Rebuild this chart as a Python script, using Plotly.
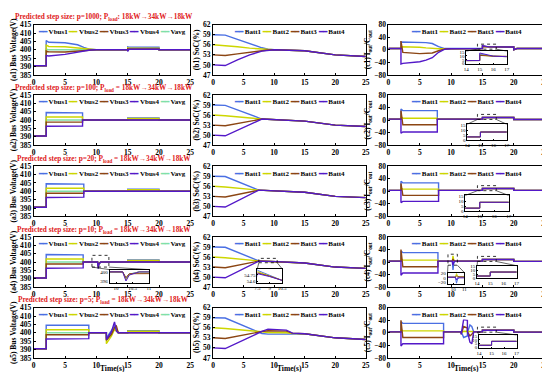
import plotly.graph_objects as go

W, H = 550, 372
FONT = "Liberation Serif"
COLORS = ["#4a6fe3", "#cdd600", "#8b4513", "#5318c8"]
CAVG = "#7fe0a8"

VNAMES = ["Vbus1", "Vbus2", "Vbus3", "Vbus4"]
BNAMES = ["Batt1", "Batt2", "Batt3", "Batt4"]
ROW_LABELS = ["1", "2", "3", "4", "5"]
P_VALUES = ["1000", "100", "20", "10", "5"]
TITLE_SEP = [":", " =", " =", " =", " ="]

X_TICKS = [0, 5, 10, 15, 20, 25]
V_TICKS = [385, 390, 395, 400, 405, 410, 415]
S_TICKS = [47, 50, 53, 56, 59, 62]
I_TICKS = [-80, -40, 0, 40, 80]

# ---------------- Bus voltage (column a) ----------------
TA1 = [0, 2, 2, 2.4, 5, 7, 8, 9, 10, 15, 15, 15.2, 20, 20, 25]
A1_V1 = [390.5, 390.5, 405.5, 404.5, 404.2, 403, 401.5, 400.3, 400, 400, 401.8, 401.6, 401.5, 400, 400]
A1_V2 = [390.5, 390.5, 402.8, 402, 401.8, 401, 400.5, 400.1, 400, 400, 401.2, 401.0, 401.0, 400, 400]
A1_V3 = [390.5, 390.5, 399.3, 398.8, 398.7, 399.2, 399.6, 399.9, 400, 400, 400.6, 400.5, 400.5, 400, 400]
A1_V4 = [390.5, 390.5, 396.5, 396.3, 397.3, 398.5, 399.3, 399.9, 400, 400, 399.0, 400.3, 400.3, 400, 400]
A1_VA = [390.5, 390.5, 400.5, 400, 400, 400, 400, 400, 400, 400, 400.9, 400.9, 400.8, 400, 400]

TA2 = [0, 2, 2, 7.8, 7.8, 15, 15, 20, 20, 25]
A2_V1 = [390.5, 390.5, 404.5, 404.3, 400, 400, 401.3, 401.3, 400, 400]
A2_V2 = [390.5, 390.5, 401.8, 401.8, 400, 400, 400.9, 400.9, 400, 400]
A2_V3 = [390.5, 390.5, 398.8, 398.8, 400, 400, 400.4, 400.4, 400, 400]
A2_V4 = [390.5, 390.5, 396.3, 396.5, 400, 400, 399.6, 399.6, 400, 400]
A2_VA = [390.5, 390.5, 400, 400, 400, 400, 400.6, 400.6, 400, 400]

TA3 = [0, 2, 2, 8.0, 8.0, 15, 15, 20, 20, 25]
A3_V1 = [390.5, 390.5, 404.5, 404.3, 400, 400, 401.3, 401.3, 400, 400]
A3_V2 = [390.5, 390.5, 401.8, 401.8, 400, 400, 400.9, 400.9, 400, 400]
A3_V3 = [390.5, 390.5, 398.8, 398.8, 400, 400, 400.4, 400.4, 400, 400]
A3_V4 = [390.5, 390.5, 396.3, 396.5, 400, 400, 399.6, 399.6, 400, 400]
A3_VA = [390.5, 390.5, 400, 400, 400, 400, 400.6, 400.6, 400, 400]

TA4 = [0, 2, 2, 7.9, 7.9, 10.2, 10.3, 10.4, 10.7, 15, 15, 20, 20, 25]
A4_V1 = [390.5, 390.5, 404.5, 404.3, 400, 400, 397.0, 399.0, 400, 400, 401.3, 401.3, 400, 400]
A4_V2 = [390.5, 390.5, 401.8, 401.8, 400, 400, 396.5, 398.8, 400, 400, 400.9, 400.9, 400, 400]
A4_V3 = [390.5, 390.5, 398.8, 398.8, 400, 400, 397.5, 399.2, 400, 400, 400.4, 400.4, 400, 400]
A4_V4 = [390.5, 390.5, 396.3, 396.5, 400, 400, 396.0, 398.6, 400, 400, 399.6, 399.6, 400, 400]
A4_VA = [390.5, 390.5, 400, 400, 400, 400, 397.0, 399.0, 400, 400, 400.6, 400.6, 400, 400]

TA5 = [0, 2, 2, 8.8, 8.8, 11.6, 11.6, 12.4, 12.9, 13.2, 13.5, 15, 15, 20, 20, 25]
A5_V1 = [390.5, 390.5, 404.5, 404.5, 400, 400, 397.0, 401.0, 404.0, 402.0, 400, 400, 401.3, 401.3, 400, 400]
A5_V2 = [390.5, 390.5, 401.8, 401.8, 400, 400, 393.5, 398.0, 402.0, 401.0, 400, 400, 400.9, 400.9, 400, 400]
A5_V3 = [390.5, 390.5, 398.8, 398.8, 400, 400, 395.5, 399.0, 403.0, 404.0, 400, 400, 400.4, 400.4, 400, 400]
A5_V4 = [390.5, 390.5, 396.3, 396.5, 400, 400, 396.0, 400.5, 406.5, 401.0, 400, 400, 399.6, 399.6, 400, 400]
A5_VA = [390.5, 390.5, 400, 400, 400, 400, 395.5, 399.5, 404.0, 402.0, 400, 400, 400.6, 400.6, 400, 400]

# ---------------- SoC (column b) ----------------
TB1 = [0, 2, 4, 6, 8, 9, 10, 15, 20, 25]
B1_1 = [59, 58.9, 57.6, 56.3, 55.1, 54.7, 54.5, 54.2, 53.0, 52.5]
B1_2 = [56, 55.8, 55.4, 55.0, 54.7, 54.55, 54.5, 54.2, 53.0, 52.5]
B1_3 = [53, 52.8, 53.3, 53.8, 54.3, 54.45, 54.5, 54.2, 53.0, 52.5]
B1_4 = [50, 49.8, 51.5, 53.0, 54.1, 54.4, 54.5, 54.2, 53.0, 52.5]

TB2 = [0, 2, 8, 10, 15, 20, 25]
B2_1 = [59, 58.9, 54.8, 54.6, 54.2, 53.0, 52.6]
B2_2 = [56, 55.8, 54.8, 54.6, 54.2, 53.0, 52.6]
B2_3 = [53, 52.8, 54.8, 54.6, 54.2, 53.0, 52.6]
B2_4 = [50, 49.8, 54.8, 54.6, 54.2, 53.0, 52.6]

TB3 = [0, 2, 7.5, 10, 15, 20, 25]
B3_1 = [59, 58.9, 54.85, 54.6, 54.2, 53.0, 52.6]
B3_2 = [56, 55.8, 54.85, 54.6, 54.2, 53.0, 52.6]
B3_3 = [53, 52.8, 54.85, 54.6, 54.2, 53.0, 52.6]
B3_4 = [50, 49.8, 54.85, 54.6, 54.2, 53.0, 52.6]

TB4 = [0, 2, 7.5, 9, 10.5, 15, 20, 25]
B4_1 = [59, 58.9, 54.86, 54.74, 54.62, 54.2, 53.0, 52.6]
B4_2 = [56, 55.8, 54.83, 54.73, 54.62, 54.2, 53.0, 52.6]
B4_3 = [53, 52.8, 54.80, 54.72, 54.62, 54.2, 53.0, 52.6]
B4_4 = [50, 49.8, 54.78, 54.71, 54.62, 54.2, 53.0, 52.6]

TB5 = [0, 2, 8, 9, 12, 13, 15, 20, 25]
B5_1 = [59, 58.9, 54.3, 54.1, 54.1, 54.2, 54.2, 53.0, 52.5]
B5_2 = [56, 55.8, 54.8, 54.6, 54.5, 54.3, 54.2, 53.0, 52.5]
B5_3 = [53, 52.8, 54.9, 55.1, 55.0, 54.4, 54.2, 53.0, 52.5]
B5_4 = [50, 49.8, 54.9, 55.6, 55.3, 54.4, 54.2, 53.0, 52.5]

# ---------------- I_out/C_out (column c) ----------------
TC1 = [0, 2, 2, 2.3, 5, 6, 7, 8, 9, 10, 15, 15, 16, 20, 20, 20.5, 25]
C1_1 = [4, 4, 25, 25, 24, 23, 20, 10, 4, 4, 4, 12, 9.5, 9, 0, 4, 4]
C1_2 = [4, 4, 10, 10, 8, 6, 4, 3.5, 3.5, 3.5, 4, 11, 9.5, 9, 0, 4, 4]
C1_3 = [4, 4, 28, -8, -12, -12, -10, -3, 3, 3.5, 4, 10.5, 9.5, 9, 0, 4, 4]
C1_4 = [4, 4, -45, -43, -38, -33, -25, -8, 2, 3.5, 4, 13.5, 9.5, 9, 0, 4, 4]

TC2 = [0, 2, 2, 2.3, 7.8, 7.8, 15, 15, 20, 20, 25]
C2_1 = [3, 3, 35, 30, 30, 3, 3, 8, 8, 2, 2]
C2_2 = [3, 3, 10, 6, 6, 3, 3, 8, 8, 2, 2]
C2_3 = [3, 3, 30, -15, -15, 3, 3, 8, 8, 2, 2]
C2_4 = [3, 3, -42, -38, -38, 3, 3, 8, 8, 2, 2]

TC3 = [0, 2, 2, 2.3, 8.0, 8.0, 15, 15, 20, 20, 25]
C3_1 = [3, 3, 32, 27, 27, 3, 3, 9, 9, 3, 3]
C3_2 = [3, 3, 10, 7, 7, 3, 3, 9, 9, 3, 3]
C3_3 = [3, 3, 25, -13, -13, 3, 3, 9, 9, 3, 3]
C3_4 = [3, 3, -36, -32, -32, 3, 3, 9, 9, 3, 3]

TC4 = [0, 2, 2, 2.3, 7.9, 7.9, 10.2, 10.3, 10.4, 10.6, 15, 15, 20, 20, 25]
C4_1 = [3, 3, 35, 30, 30, 3, 3, -25, -5, 3, 3, 8, 8, 2, 2]
C4_2 = [3, 3, 10, 6, 6, 3, 3, 20, 8, 3, 3, 8, 8, 2, 2]
C4_3 = [3, 3, 40, -15, -15, 3, 3, 10, 5, 3, 3, 8, 8, 2, 2]
C4_4 = [3, 3, -42, -35, -35, 3, 3, -10, 0, 3, 3, 8, 8, 2, 2]

TC5 = [0, 2, 2, 2.3, 8.8, 8.8, 11.6, 11.6, 12.0, 12.6, 12.6, 13.0, 13.3, 13.6, 15, 15, 20, 20, 25]
C5_1 = [3, 3, 35, 30, 30, 3, 3, 5, -15, -10, 0, 25, 20, 3, 3, 8, 8, 2, 2]
C5_2 = [3, 3, 10, 6, 6, 3, 3, 0, 5, 5, 3, 5, 5, 3, 3, 8, 8, 2, 2]
C5_3 = [3, 3, 40, -15, -15, 3, 3, -5, 20, 15, 3, -10, -5, 3, 3, 8, 8, 2, 2]
C5_4 = [3, 3, -42, -35, -35, 3, 3, -5, 42, 40, 5, -30, -35, 3, 3, 8, 8, 2, 2]

A_DATA = [(TA1, [A1_V1, A1_V2, A1_V3, A1_V4], A1_VA), (TA2, [A2_V1, A2_V2, A2_V3, A2_V4], A2_VA),
          (TA3, [A3_V1, A3_V2, A3_V3, A3_V4], A3_VA), (TA4, [A4_V1, A4_V2, A4_V3, A4_V4], A4_VA),
          (TA5, [A5_V1, A5_V2, A5_V3, A5_V4], A5_VA)]
B_DATA = [(TB1, [B1_1, B1_2, B1_3, B1_4]), (TB2, [B2_1, B2_2, B2_3, B2_4]), (TB3, [B3_1, B3_2, B3_3, B3_4]),
          (TB4, [B4_1, B4_2, B4_3, B4_4]), (TB5, [B5_1, B5_2, B5_3, B5_4])]
C_DATA = [(TC1, [C1_1, C1_2, C1_3, C1_4]), (TC2, [C2_1, C2_2, C2_3, C2_4]), (TC3, [C3_1, C3_2, C3_3, C3_4]),
          (TC4, [C4_1, C4_2, C4_3, C4_4]), (TC5, [C5_1, C5_2, C5_3, C5_4])]

# ---------------- layout geometry (pixels) ----------------
COLS_PX = [(23, 182), (205, 360), (383, 542)]
ROW_TOPS = [13, 85, 158, 230.5, 303]
ROW_H = 51.5
C_INSETS = [(462, 40, 503, 53), (463, 115, 503, 131), (461, 188, 505, 204), (473, 260, 513, 273),
            (475, 331, 513, 344)]


def fx(p):
    return p / W


def fy(p):
    return 1 - p / H


def sfx(i):
    return "" if i == 1 else str(i)


fig = go.Figure()
layout = {}
shapes = []
annotations = []

AX_STYLE = dict(showline=True, linecolor="black", linewidth=1, mirror=True, ticks="inside",
                ticklen=2, tickcolor="black", showgrid=False, zeroline=False,
                tickfont=dict(family=FONT, size=7.5, color="black", weight="bold"))


def add_axis(idx, xdom, ydom, xr, yr, xt, yt, ytitle=None, small=False):
    xs = dict(AX_STYLE)
    ys = dict(AX_STYLE)
    if small:
        xs["tickfont"] = dict(family=FONT, size=5, color="black")
        ys["tickfont"] = dict(family=FONT, size=5, color="black")
        xs["ticklen"] = 1
        ys["ticklen"] = 1
        xs["linewidth"] = 0.7
        ys["linewidth"] = 0.7
    xs.update(domain=xdom, range=xr, tickvals=xt, anchor="y" + sfx(idx))
    ys.update(domain=ydom, range=yr, tickvals=yt, anchor="x" + sfx(idx))
    if ytitle:
        ys["title"] = dict(text=ytitle, font=dict(family=FONT, size=7.5, color="black", weight="bold"), standoff=2)
    layout["xaxis" + sfx(idx)] = xs
    layout["yaxis" + sfx(idx)] = ys


def legend_text(names, with_avg=False):
    parts = []
    for n, c in zip(names, COLORS):
        parts.append("<span style='color:%s'>━━</span> %s" % (c, n))
    if with_avg:
        parts.append("<span style='color:%s'>━━</span> Vavg" % CAVG)
    return " ".join(parts)


def add_lines(idx, t, series, avg=None, width=1.4):
    if avg is not None:
        fig.add_trace(go.Scatter(x=t, y=avg, mode="lines", line=dict(color=CAVG, width=width),
                                 xaxis="x" + sfx(idx), yaxis="y" + sfx(idx), showlegend=False))
    for s, c in zip(series, COLORS):
        fig.add_trace(go.Scatter(x=t, y=s, mode="lines", line=dict(color=c, width=width),
                                 xaxis="x" + sfx(idx), yaxis="y" + sfx(idx), showlegend=False))


def zoom_box(xdom, ydom, xr, yr, bx, by, inset_px):
    def px_of(t):
        return xdom[0] + (t - xr[0]) / (xr[1] - xr[0]) * (xdom[1] - xdom[0])

    def py_of(v):
        return ydom[0] + (v - yr[0]) / (yr[1] - yr[0]) * (ydom[1] - ydom[0])
    x0, x1 = px_of(bx[0]), px_of(bx[1])
    y0, y1 = py_of(by[0]), py_of(by[1])
    shapes.append(dict(type="rect", xref="paper", yref="paper", x0=x0, x1=x1, y0=y0, y1=y1,
                       line=dict(color="black", width=0.8, dash="dot")))
    ix0, iy0, ix1, iy1 = inset_px
    shapes.append(dict(type="line", xref="paper", yref="paper", x0=x0, y0=y0, x1=fx(ix0), y1=fy(iy0),
                       line=dict(color="black", width=0.6)))
    shapes.append(dict(type="line", xref="paper", yref="paper", x0=x1, y0=y0, x1=fx(ix1), y1=fy(iy0),
                       line=dict(color="black", width=0.6)))


def legend_ann(idx, names, with_avg=False):
    annotations.append(dict(text=legend_text(names, with_avg), xref="x%s domain" % sfx(idx),
                            yref="y%s domain" % sfx(idx), x=0.5, y=0.95, xanchor="center", yanchor="top",
                            showarrow=False, bgcolor="white", borderpad=0,
                            font=dict(family=FONT, size=7, color="black", weight="bold")))


XR = [0, 25]
inset_id = 100
for r in range(5):
    top = ROW_TOPS[r]
    ydom = [fy(top + ROW_H), fy(top)]
    lab = ROW_LABELS[r]
    # column a
    ia = r * 3 + 1
    xdom = [fx(COLS_PX[0][0]), fx(COLS_PX[0][1])]
    add_axis(ia, xdom, ydom, XR, [385, 415], X_TICKS, V_TICKS, "(a%s) Bus Voltage(V)" % lab)
    t, ser, avg = A_DATA[r]
    add_lines(ia, t, ser, avg)
    legend_ann(ia, VNAMES, True)
    # column b
    ib = r * 3 + 2
    xdomb = [fx(COLS_PX[1][0]), fx(COLS_PX[1][1])]
    add_axis(ib, xdomb, ydom, XR, [47, 62], X_TICKS, S_TICKS, "(b%s) SoC(%%)" % lab)
    t, ser = B_DATA[r]
    add_lines(ib, t, ser)
    legend_ann(ib, BNAMES)
    # column c
    ic = r * 3 + 3
    xdomc = [fx(COLS_PX[2][0]), fx(COLS_PX[2][1])]
    add_axis(ic, xdomc, ydom, XR, [-80, 80], X_TICKS, I_TICKS, "(c%s) I<sub>out</sub>/C<sub>out</sub>" % lab)
    t, ser = C_DATA[r]
    add_lines(ic, t, ser)
    legend_ann(ic, BNAMES)
    # inset 14-17 on column c
    ins = C_INSETS[r]
    inset_id += 1
    add_axis(inset_id, [fx(ins[0]), fx(ins[2])], [fy(ins[3]), fy(ins[1])], [14, 17], [0, 16],
             [14, 15, 16, 17], [0, 5, 10, 15], small=True)
    add_lines(inset_id, t, ser, width=1)
    zoom_box(xdomc, ydom, XR, [-80, 80], [14.2, 17.2], [2, 18], ins)
    # row title
    annotations.append(dict(
        text="Predicted step size: p=%s; P<sub>load</sub>%s 18kW→34kW→18kW" % (P_VALUES[r], TITLE_SEP[r]),
        xref="paper", yref="paper", x=fx(94), y=fy(top - 7.5), xanchor="center", yanchor="middle",
        showarrow=False, font=dict(family=FONT, size=7.3, color="#e0201a", weight="bold")))

# extra insets on row 4
top4 = ROW_TOPS[3]
ydom4 = [fy(top4 + ROW_H), fy(top4)]
# a4 inset
inset_id += 1
ins = (100, 264, 140, 278)
add_axis(inset_id, [fx(ins[0]), fx(ins[2])], [fy(ins[3]), fy(ins[1])], [9.8, 11], [395, 401],
         [10, 10.5, 11], [396, 400], small=True)
t, ser, avg = A_DATA[3]
add_lines(inset_id, t, ser, avg, width=1)
zoom_box([fx(COLS_PX[0][0]), fx(COLS_PX[0][1])], ydom4, XR, [385, 415], [9.3, 12], [397, 404], ins)
# b4 inset
inset_id += 1
ins = (250, 263, 275, 278)
add_axis(inset_id, [fx(ins[0]), fx(ins[2])], [fy(ins[3]), fy(ins[1])], [7.5, 10.5], [54.55, 54.9],
         [7.5, 9, 10.5], [54.6, 54.75], small=True)
t, ser = B_DATA[3]
add_lines(inset_id, t, ser, width=1)
zoom_box([fx(COLS_PX[1][0]), fx(COLS_PX[1][1])], ydom4, XR, [47, 62], [7.5, 10.5], [54.3, 55.6], ins)
# c4 second inset
inset_id += 1
ins = (443, 267, 460, 279)
add_axis(inset_id, [fx(ins[0]), fx(ins[2])], [fy(ins[3]), fy(ins[1])], [9.5, 11], [-30, 25],
         [10, 11], [-20, 0, 20], small=True)
t, ser = C_DATA[3]
add_lines(inset_id, t, ser, width=1)
zoom_box([fx(COLS_PX[2][0]), fx(COLS_PX[2][1])], ydom4, XR, [-80, 80], [9.5, 11], [-10, 25], ins)

# Time(s) labels on bottom row
for c in range(3):
    annotations.append(dict(text="Time(s)", xref="paper", yref="paper",
                            x=fx((COLS_PX[c][0] + COLS_PX[c][1]) / 2), y=fy(365.5), xanchor="center",
                            yanchor="middle", showarrow=False,
                            font=dict(family=FONT, size=7.5, color="black", weight="bold")))

fig.update_layout(**layout)
fig.update_layout(width=W, height=H, margin=dict(l=0, r=0, t=0, b=0), plot_bgcolor="white",
                  paper_bgcolor="white", shapes=shapes, annotations=annotations, showlegend=False,
                  font=dict(family=FONT))
fig.write_html("out.html")
